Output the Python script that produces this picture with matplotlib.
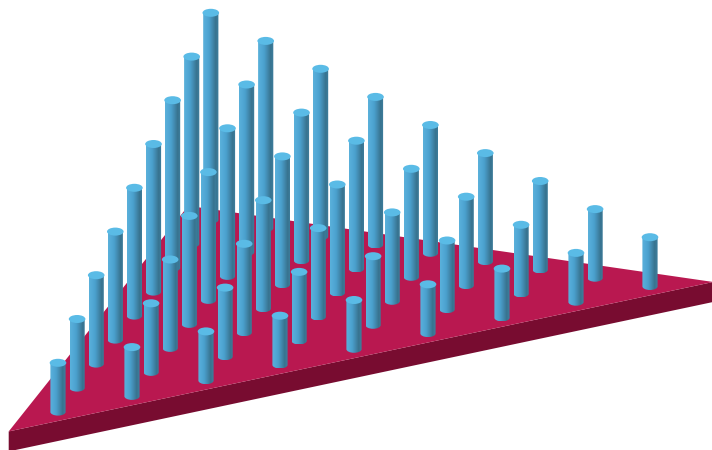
import numpy as np
import matplotlib
matplotlib.use('Agg')
import matplotlib.pyplot as plt
from matplotlib.colors import LinearSegmentedColormap
from matplotlib.patches import Ellipse, PathPatch, Polygon
from matplotlib.path import Path

# peg positions on the triangular grid and their heights
peg_a = [0, 0, 0, 0, 0, 0, 0, 0, 0,
         1, 1, 1, 1, 1, 1, 1, 1,
         2, 2, 2, 2, 2, 2, 2,
         3, 3, 3, 3, 3, 3,
         4, 4, 4, 4, 4,
         5, 5, 5, 5,
         6, 6, 6,
         7, 7,
         8]
peg_b = [0, 1, 2, 3, 4, 5, 6, 7, 8,
         0, 1, 2, 3, 4, 5, 6, 7,
         0, 1, 2, 3, 4, 5, 6,
         0, 1, 2, 3, 4, 5,
         0, 1, 2, 3, 4,
         0, 1, 2, 3,
         0, 1, 2,
         0, 1,
         0]
peg_h = [2.46, 3.45, 4.44, 5.42, 6.41, 7.40, 8.39, 9.37, 10.36,
         2.46, 3.45, 4.44, 5.42, 6.41, 7.40, 8.39, 9.37,
         2.46, 3.45, 4.44, 5.42, 6.41, 7.40, 8.39,
         2.46, 3.45, 4.44, 5.42, 6.41, 7.40,
         2.46, 3.45, 4.44, 5.42, 6.41,
         2.46, 3.45, 4.44, 5.42,
         2.46, 3.45, 4.44,
         2.46, 3.45,
         2.46]
plate_a = [-0.55, 8.97, -0.55]
plate_b = [-0.45, -0.45, 8.95]
plate_thickness = 1.0


# oblique projection of the grid onto the image
def project(a, b, h=0.0):
    px = 58 + 74.0 * a + 19.1 * b
    py = 412 - 15.7 * a - 24.0 * b - 20.0 * h
    return px, py


def draw_peg(ax, x0, y_base, y_top, cmap):
    rw = 7.6
    k = 0.5523
    ry = 3.6
    # body: straight sides, rounded at the bottom
    verts = [(x0 - rw, y_top), (x0 - rw, y_base),
             (x0 - rw, y_base + k * ry), (x0 - k * rw, y_base + ry), (x0, y_base + ry),
             (x0 + k * rw, y_base + ry), (x0 + rw, y_base + k * ry), (x0 + rw, y_base),
             (x0 + rw, y_top), (x0 - rw, y_top)]
    codes = [Path.MOVETO, Path.LINETO, Path.CURVE4, Path.CURVE4, Path.CURVE4,
             Path.CURVE4, Path.CURVE4, Path.CURVE4, Path.LINETO, Path.CLOSEPOLY]
    body = PathPatch(Path(verts, codes), fc='none', ec='none', zorder=3)
    ax.add_patch(body)
    im = ax.imshow(np.linspace(0, 1, 32).reshape(1, -1), cmap=cmap, aspect='auto',
                   extent=(x0 - rw, x0 + rw, y_base + ry, y_top), zorder=3)
    im.set_clip_path(body)
    cap = Ellipse((x0, y_top), 16.6, 8.0, fc='#5abbe6', ec='none', zorder=3)
    ax.add_patch(cap)


fig = plt.figure(figsize=(7.12, 4.5), dpi=100)
ax = fig.add_axes([0, 0, 1, 1])
ax.set_axis_off()

# plate: top face and front side
plate_x, plate_y = project(np.array(plate_a), np.array(plate_b))
top_face = list(zip(plate_x, plate_y))
side_face = [top_face[0], top_face[1],
             project(plate_a[1], plate_b[1], -plate_thickness),
             project(plate_a[0], plate_b[0], -plate_thickness)]
ax.add_patch(Polygon(side_face, fc='#780c30', ec='none', zorder=1))
ax.add_patch(Polygon(top_face, fc='#b91850', ec='none', zorder=2))

peg_cmap = LinearSegmentedColormap.from_list(
    'peg', ['#5ab0da', '#52a9d6', '#4a9fcc', '#4289ae', '#37738f', '#3f7f9f'])

# back to front so nearer pegs cover the ones behind
base_x, base_y = project(np.array(peg_a), np.array(peg_b))
top_x, top_y = project(np.array(peg_a), np.array(peg_b), np.array(peg_h))
for idx in np.argsort(base_y):
    draw_peg(ax, base_x[idx], base_y[idx], top_y[idx], peg_cmap)

ax.set_xlim(0, 712)
ax.set_ylim(450, 0)

plt.savefig('out.png', dpi=100)
